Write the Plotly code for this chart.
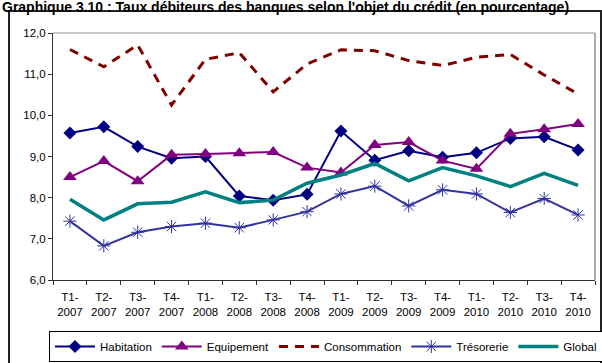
import plotly.graph_objects as go

categories = ["T1-<br>2007", "T2-<br>2007", "T3-<br>2007", "T4-<br>2007",
              "T1-<br>2008", "T2-<br>2008", "T3-<br>2008", "T4-<br>2008",
              "T1-<br>2009", "T2-<br>2009", "T3-<br>2009", "T4-<br>2009",
              "T1-<br>2010", "T2-<br>2010", "T3-<br>2010", "T4-<br>2010"]

habitation = [9.57, 9.72, 9.24, 8.96, 9.00, 8.04, 7.94, 8.08,
              9.62, 8.91, 9.14, 8.98, 9.09, 9.44, 9.48, 9.16]
equipement = [8.50, 8.89, 8.40, 9.04, 9.06, 9.08, 9.11, 8.73,
              8.61, 9.28, 9.35, 8.90, 8.70, 9.55, 9.66, 9.79]
consommation = [11.60, 11.18, 11.71, 10.25, 11.36, 11.52, 10.57, 11.25,
                11.59, 11.57, 11.33, 11.21, 11.41, 11.48, 10.98, 10.52]
tresorerie = [7.43, 6.83, 7.16, 7.30, 7.38, 7.27, 7.46, 7.66,
              8.09, 8.28, 7.80, 8.19, 8.09, 7.64, 7.98, 7.58]
global_ = [7.96, 7.46, 7.85, 7.89, 8.14, 7.88, 7.94, 8.35,
           8.55, 8.83, 8.41, 8.73, 8.53, 8.27, 8.59, 8.30]

title_text = "Graphique 3.10 : Taux débiteurs des banques selon l'objet du crédit (en pourcentage)"

W, H = 602, 363
L, R, T, B = 53, 595, 33, 280


def px(x):
    return (x - L) / (R - L)


def py(y):
    return (B - y) / (B - T)


fig = go.Figure()
fig.add_trace(go.Scatter(x=categories, y=habitation, name="Habitation", mode="lines+markers",
                         line=dict(color="#000080", width=2),
                         marker=dict(symbol="diamond", size=10, color="#000080")))
fig.add_trace(go.Scatter(x=categories, y=equipement, name="Equipement", mode="lines+markers",
                         line=dict(color="#800080", width=2),
                         marker=dict(symbol="triangle-up", size=12, color="#800080")))
fig.add_trace(go.Scatter(x=categories, y=consommation, name="Consommation", mode="lines",
                         line=dict(color="#800000", width=3, dash="9px,7px")))
fig.add_trace(go.Scatter(x=categories, y=tresorerie, name="Trésorerie", mode="lines+markers",
                         line=dict(color="#3333a0", width=2),
                         marker=dict(symbol="asterisk-open", size=11,
                                     line=dict(color="#3333a0", width=1))))
fig.add_trace(go.Scatter(x=categories, y=global_, name="Global", mode="lines",
                         line=dict(color="#008080", width=3.5)))

shapes = [
    # outer frame
    dict(type="rect", xref="paper", yref="paper",
         x0=px(9), x1=px(601), y0=py(370), y1=py(11),
         line=dict(color="#222222", width=2), fillcolor="rgba(0,0,0,0)", layer="below"),
    # plot area border (top and right in gray)
    dict(type="line", xref="paper", yref="paper", x0=0, x1=1, y0=1, y1=1,
         line=dict(color="#909090", width=1)),
    dict(type="line", xref="paper", yref="paper", x0=1, x1=1, y0=0, y1=1,
         line=dict(color="#909090", width=1.5)),
]

fig.update_layout(
    width=W, height=H,
    margin=dict(l=L, r=W - R, t=T, b=H - B, autoexpand=False),
    paper_bgcolor="white", plot_bgcolor="white",
    separators=", ",
    font=dict(family="Liberation Sans, Arial, sans-serif", size=11, color="#000000"),
    showlegend=True,
    legend=dict(orientation="h", x=px(49), xanchor="left", y=py(331), yanchor="top",
                bordercolor="#000000", borderwidth=1, bgcolor="white",
                font=dict(size=11.5), itemwidth=40, tracegroupgap=0,
                entrywidthmode="pixels"),
    shapes=shapes,
    annotations=[dict(text="<b>" + title_text + "</b>", xref="paper", yref="paper",
                      x=px(0), xanchor="left", y=py(-3), yanchor="top",
                      showarrow=False, font=dict(size=14, color="#000000"))],
    xaxis=dict(type="category", showgrid=False, showline=True, linecolor="#333333",
               linewidth=1, ticks="outside", tickson="boundaries", ticklen=4,
               tickcolor="#333333", tickfont=dict(size=11.5), tickangle=0,
               ticklabelstandoff=6, range=[-0.5, 15.5]),
    yaxis=dict(range=[6, 12], dtick=1, tickformat=".1f", showgrid=False, showline=True,
               linecolor="#333333", linewidth=1, ticks="outside", ticklen=4,
               tickcolor="#333333", tickfont=dict(size=11.5), zeroline=False),
)

fig.write_html("out.html")
